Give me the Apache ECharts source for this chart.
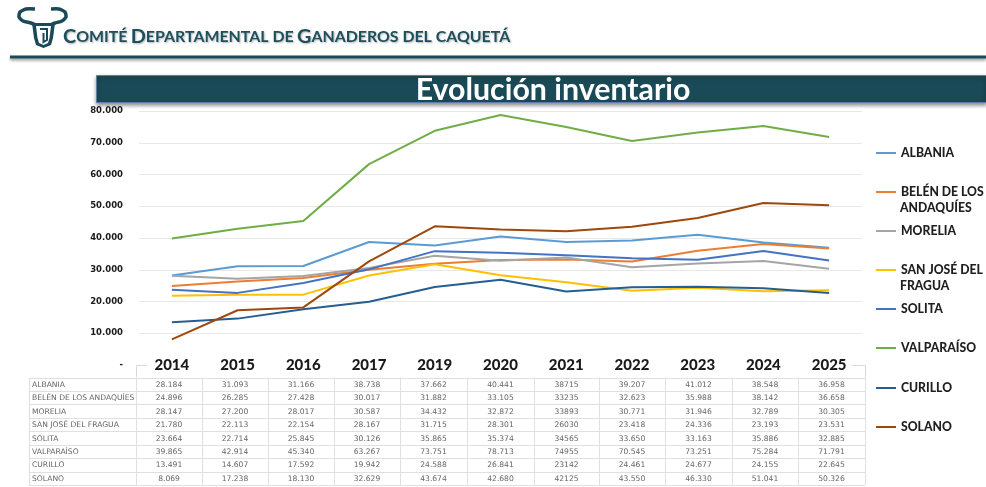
<!DOCTYPE html>
<html>
<head>
<meta charset="utf-8">
<style>
html, body { margin: 0; background: #fff; }
#main { width: 986px; height: 487px; }
</style>
<script src="https://cdn.jsdelivr.net/npm/echarts@6/dist/echarts.min.js"></script>
</head>
<body>
<div id="main"></div>
<script>
var years = ['2014', '2015', '2016', '2017', '2019', '2020', '2021', '2022', '2023', '2024', '2025'];
var names = ['ALBANIA', 'BELÉN DE LOS ANDAQUÍES', 'MORELIA', 'SAN JOSÉ DEL FRAGUA', 'SOLITA', 'VALPARAÍSO', 'CURILLO', 'SOLANO'];
var albania = [28184, 31093, 31166, 38738, 37662, 40441, 38715, 39207, 41012, 38548, 36958];
var belen = [24896, 26285, 27428, 30017, 31882, 33105, 33235, 32623, 35988, 38142, 36658];
var morelia = [28147, 27200, 28017, 30587, 34432, 32872, 33893, 30771, 31946, 32789, 30305];
var sanJose = [21780, 22113, 22154, 28167, 31715, 28301, 26030, 23418, 24336, 23193, 23531];
var solita = [23664, 22714, 25845, 30126, 35865, 35374, 34565, 33650, 33163, 35886, 32885];
var valparaiso = [39865, 42914, 45340, 63267, 73751, 78713, 74955, 70545, 73251, 75284, 71791];
var curillo = [13491, 14607, 17592, 19942, 24588, 26841, 23142, 24461, 24677, 24155, 22645];
var solano = [8069, 17238, 18130, 32629, 43674, 42680, 42125, 43550, 46330, 51041, 50326];
var values = [albania, belen, morelia, sanJose, solita, valparaiso, curillo, solano];
var colors = ['#5b9bd5', '#ed7d31', '#a5a5a5', '#ffc000', '#4472c4', '#70ad47', '#255e91', '#9e480e'];
var legendTops = [153, 192, 231, 270, 309, 348, 388, 427];

var dark = '#1a4a57';
var tableEdges = [29, 136, 202, 268, 334, 400, 467, 534, 599, 665, 732, 798, 865];
var tableTop = 377.5, rowH = 13.45;

// la columna 2021 viene sin separador de miles en la tabla original
function fmt(v, year) {
	var s = String(v);
	if (year === '2021') return s;
	return s.slice(0, -3) + '.' + s.slice(-3);
}

var graphic = [];
// cabecera
var headShadow = {textShadowColor: 'rgba(0,0,0,0.3)', textShadowBlur: 2, textShadowOffsetX: 1, textShadowOffsetY: 1};
graphic.push({
	type: 'text', x: 63, y: 37,
	style: {
		text: '{b|C}{s|OMITÉ} {b|D}{s|EPARTAMENTAL DE} {b|G}{s|ANADEROS DEL CAQUETÁ}',
		verticalAlign: 'middle',
		rich: {
			b: Object.assign({font: 'bold 19.9px Lato', fill: '#1d4f5c'}, headShadow),
			s: Object.assign({font: 'bold 15.9px Lato', fill: '#1d4f5c'}, headShadow)
		}
	}
});
// logo
graphic.push({type: 'polyline', shape: {points: [[35, 9], [26, 9], [20, 12], [19, 17], [23, 21], [31, 23], [36, 25]], smooth: 0.2}, style: {stroke: dark, fill: null, lineWidth: 3.5}});
graphic.push({type: 'polyline', shape: {points: [[51, 9], [59, 9], [65, 12], [66, 17], [62, 21], [55, 23], [50, 25]], smooth: 0.2}, style: {stroke: dark, fill: null, lineWidth: 3.5}});
graphic.push({type: 'polygon', shape: {points: [[32, 23], [55, 23], [53, 38], [51, 45], [43.5, 48], [36, 45], [34, 38]]}, style: {fill: dark}});
graphic.push({type: 'polygon', shape: {points: [[36, 26], [51, 26], [49.5, 38], [48, 43], [43.5, 45], [39, 43], [37.5, 38]]}, style: {fill: '#fff'}});
graphic.push({type: 'polyline', shape: {points: [[40, 29], [47, 29], [47, 40], [43.5, 42], [43.5, 33]]}, style: {stroke: dark, fill: null, lineWidth: 2}});
// regla superior
graphic.push({
	type: 'rect',
	shape: {x: 10, y: 55.5, width: 976, height: 3},
	style: {fill: dark, shadowBlur: 3, shadowColor: 'rgba(0,0,0,0.4)', shadowOffsetY: 2}
});
// banda del titulo
graphic.push({
	type: 'rect',
	shape: {x: 96.5, y: 75.5, width: 890, height: 27},
	style: {fill: dark, stroke: '#5f7fa8', lineWidth: 1, shadowBlur: 4, shadowColor: 'rgba(0,0,0,0.45)', shadowOffsetY: 2}
});
graphic.push({
	type: 'text', x: 553, y: 90,
	style: {text: 'Evolución inventario', font: 'bold 30.3px Lato', fill: '#fff', align: 'center', verticalAlign: 'middle'}
});
// segundas lineas de la leyenda
graphic.push({type: 'text', x: 900, y: 208, style: {text: 'ANDAQUÍES', font: '900 12.2px Lato', fill: '#1f1f1f', verticalAlign: 'middle'}});
graphic.push({type: 'text', x: 900, y: 286, style: {text: 'FRAGUA', font: '900 12.2px Lato', fill: '#1f1f1f', verticalAlign: 'middle'}});
// remates del eje
graphic.push({type: 'polyline', shape: {points: [[147, 365.5], [136.5, 365.5], [136.5, tableTop]]}, style: {stroke: '#d9d9d9', fill: null, lineWidth: 1}});
graphic.push({type: 'polyline', shape: {points: [[852, 365.5], [865.5, 365.5], [865.5, tableTop]]}, style: {stroke: '#d9d9d9', fill: null, lineWidth: 1}});
// tabla
var tableBottom = tableTop + rowH * names.length;
for (var r = 0; r <= names.length; r++) {
	var ly = Math.round(tableTop + rowH * r) + 0.5;
	graphic.push({type: 'line', shape: {x1: tableEdges[0], y1: ly, x2: tableEdges[12], y2: ly}, style: {stroke: '#e0e0e0', lineWidth: 1}});
}
tableEdges.forEach(function(x) {
	graphic.push({type: 'line', shape: {x1: x + 0.5, y1: tableTop, x2: x + 0.5, y2: tableBottom}, style: {stroke: '#e0e0e0', lineWidth: 1}});
});
names.forEach(function(name, i) {
	var cy = tableTop + rowH * (i + 0.5) + 0.5;
	graphic.push({type: 'text', x: 32, y: cy, style: {text: name, font: '7.6px "DejaVu Sans"', fill: '#666', verticalAlign: 'middle'}});
	years.forEach(function(year, j) {
		graphic.push({
			type: 'text', x: (tableEdges[j + 1] + tableEdges[j + 2]) / 2, y: cy,
			style: {text: fmt(values[i][j], year), font: '7.6px "DejaVu Sans"', fill: '#666', align: 'center', verticalAlign: 'middle'}
		});
	});
});

var myChart = echarts.init(document.getElementById('main'), null, {renderer: 'canvas'});
myChart.setOption({
	animation: false,
	color: colors,
	grid: {left: 139, right: 124, top: 111, bottom: 122},
	legend: names.map(function(name, i) {
		return {
			data: [name],
			left: 876, top: legendTops[i] - 8, padding: 0,
			icon: 'rect', itemWidth: 20, itemHeight: 2,
			selectedMode: false,
			formatter: function(n) {
				return n.replace(' ANDAQUÍES', '').replace(' FRAGUA', '');
			},
			textStyle: {fontFamily: 'Lato', fontWeight: 900, fontSize: 12.2, color: '#1f1f1f', lineHeight: 16}
		};
	}),
	xAxis: {
		type: 'category',
		data: years,
		axisLine: {show: false},
		axisTick: {show: false},
		axisLabel: {interval: 0, margin: -7, fontFamily: 'Lato', fontWeight: 900, fontSize: 15, color: '#1a1a1a'}
	},
	yAxis: {
		type: 'value',
		min: 0,
		max: 80000,
		interval: 10000,
		axisLine: {show: false},
		axisTick: {show: false},
		axisLabel: {
			margin: 16,
			fontFamily: 'DejaVu Sans',
			fontWeight: 'bold',
			fontSize: 8.5,
			color: '#1a1a1a',
			formatter: function(v) {
				return v === 0 ? '-' : fmt(v);
			}
		},
		splitLine: {showMinLine: false, lineStyle: {color: '#e8e8e8', width: 1}}
	},
	series: names.map(function(name, i) {
		return {
			name: name,
			type: 'line',
			data: values[i],
			symbol: 'none',
			lineStyle: {width: 2, color: colors[i]}
		};
	}),
	graphic: graphic
});
</script>
</body>
</html>
